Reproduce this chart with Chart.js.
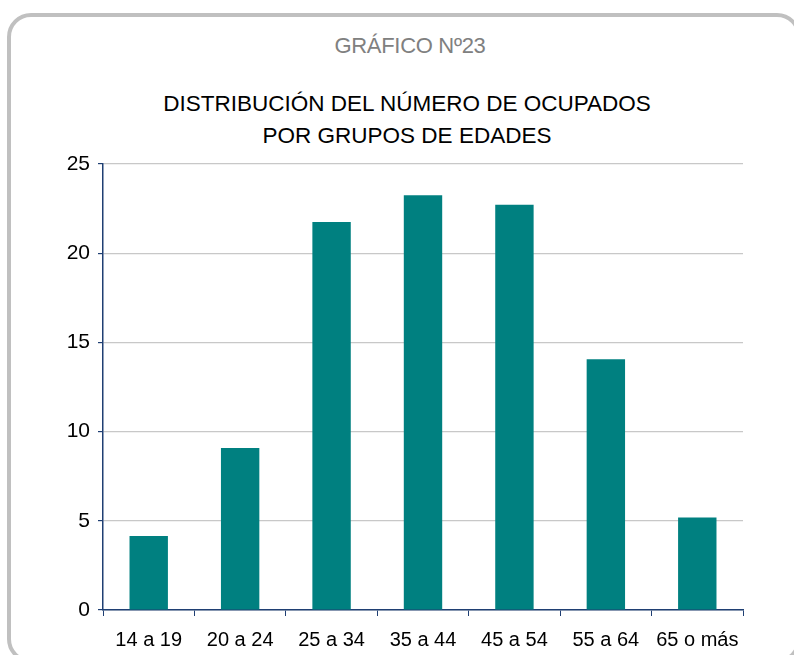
<!DOCTYPE html>
<html>
<head>
<meta charset="utf-8">
<script src="https://cdn.jsdelivr.net/npm/chart.js@4"></script>
<style>
    html, body { margin: 0; padding: 0; background: #fff; overflow: hidden; }
    body { width: 794px; height: 655px; position: relative; font-family: "Liberation Sans", Arial, sans-serif; }
    .frame {
        position: absolute; left: 7px; top: 13px; width: 786px; height: 642px;
        border: 4px solid #c0c0c0; border-radius: 24px;
    }
    .heading {
        position: absolute; left: 0; width: 820px; top: 33px; text-align: center;
        font-size: 22px; color: #808080; letter-spacing: -0.3px;
    }
    .title {
        position: absolute; left: 0; width: 814px; top: 88px; text-align: center;
        font-size: 22.5px; line-height: 32px; color: #000;
    }
    canvas { position: absolute; left: 0; top: 0; }
</style>
</head>
<body>
<div class="frame"></div>
<div class="heading">GRÁFICO Nº23</div>
<div class="title">DISTRIBUCIÓN DEL NÚMERO DE OCUPADOS<br>POR GRUPOS DE EDADES</div>
<canvas id="chart" width="794" height="655"></canvas>
<script>
// age groups and share of employed people
const categories = ['14 a 19', '20 a 24', '25 a 34', '35 a 44', '45 a 54', '55 a 64', '65 o más'];
const values = [4.15, 9.08, 21.75, 23.25, 22.72, 14.06, 5.19];
const yTicks = [0, 5, 10, 15, 20, 25];

const axisBlue = '#1f3f73';
const fontFamily = '"Liberation Sans", Arial, sans-serif';

const ctx = document.getElementById('chart').getContext('2d');
const chart = new Chart(ctx, {
    type: 'bar',
    data: {
        labels: categories,
        datasets: [{
            data: values,
            backgroundColor: '#008080',
            borderWidth: 0,
            barPercentage: 0.42,
            categoryPercentage: 1.0
        }]
    },
    options: {
        responsive: false,
        animation: false,
        layout: {
            padding: { top: 164, right: 51, bottom: 0, left: 0 }
        },
        plugins: {
            legend: { display: false },
            tooltip: { enabled: false },
            title: { display: false }
        },
        scales: {
            x: {
                afterFit: function(scale) {
                    scale.height = 45;
                },
                grid: {
                    display: true,
                    drawOnChartArea: false,
                    offset: true,
                    tickLength: 6,
                    tickColor: axisBlue
                },
                border: { color: axisBlue, width: 1.5 },
                ticks: {
                    color: '#000',
                    padding: 12,
                    maxRotation: 0,
                    font: { family: fontFamily, size: 20 }
                }
            },
            y: {
                min: 0,
                max: 25,
                afterBuildTicks: function(scale) {
                    scale.ticks = yTicks.map(v => ({ value: v }));
                },
                afterFit: function(scale) {
                    scale.width = 103;
                },
                grid: {
                    color: '#c8c8c8',
                    lineWidth: 1.2,
                    tickLength: 5,
                    tickColor: axisBlue
                },
                border: { color: axisBlue, width: 1.5 },
                ticks: {
                    color: '#000',
                    padding: 8,
                    font: { family: fontFamily, size: 21 }
                }
            }
        }
    }
});
</script>
</body>
</html>
